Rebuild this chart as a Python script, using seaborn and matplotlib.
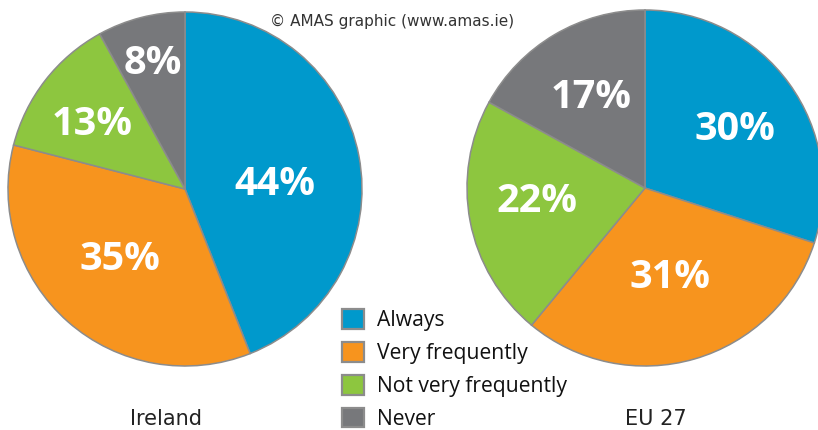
import numpy as np
import matplotlib
matplotlib.use('Agg')
import matplotlib.pyplot as plt
import seaborn as sns

categories = ['Always', 'Very frequently', 'Not very frequently', 'Never']
ireland = [44, 35, 13, 8]
eu27 = [30, 31, 22, 17]
panel_names = ['Ireland', 'EU 27']

colors = ['#0099cc', '#f7941e', '#8dc63f', '#77787b']
edge = '#8c8c8c'

sns.set_theme(style='white')
plt.rcParams['font.family'] = ['DejaVu Sans']

W, H = 818, 430
fig = plt.figure(figsize=(W / 100, H / 100), dpi=100)


def px_axes(cx, cy, r):
    # axes square around a pie centre given in image pixels (y from the top)
    return fig.add_axes([(cx - r) / W, (H - cy - r) / H, 2 * r / W, 2 * r / H])


def draw_pie(ax, values, label_r, label_dt):
    wedges, _, autotexts = ax.pie(values, colors=colors, startangle=90, counterclock=False,
                                  autopct='%d%%', radius=1,
                                  wedgeprops=dict(edgecolor=edge, linewidth=1.1),
                                  textprops=dict(color='white', fontsize=28.5, fontweight='bold',
                                                 family='Open Sans'))
    for w, t, r, dt in zip(wedges, autotexts, label_r, label_dt):
        mid = np.deg2rad((w.theta1 + w.theta2) / 2 + dt)
        t.set_position((r * np.cos(mid), r * np.sin(mid)))
        t.set_va('center')
        t.set_ha('center')
    ax.set_xlim(-1, 1)
    ax.set_ylim(-1, 1)
    ax.set_aspect('equal')
    ax.axis('off')
    return wedges


ax1 = px_axes(185, 189, 177)
wedges = draw_pie(ax1, ireland, [0.51, 0.54, 0.64, 0.73], [-8, -1.5, 3, 0])

ax2 = px_axes(645, 188, 178)
draw_pie(ax2, eu27, [0.60, 0.52, 0.61, 0.59], [-3, -0.7, -3.8, 0.4])

fig.text(166 / W, 1 - 419 / H, panel_names[0], ha='center', va='center', fontsize=15, color='#222222')
fig.text(656 / W, 1 - 419 / H, panel_names[1], ha='center', va='center', fontsize=15, color='#222222')
fig.text(392 / W, 1 - 21 / H, '\u00a9 AMAS graphic (www.amas.ie)', ha='center', va='center',
         fontsize=11, color='#333333')

leg = fig.legend(wedges, categories, loc='upper left', bbox_to_anchor=(342 / W, 1 - 309 / H),
                 frameon=False, borderpad=0, borderaxespad=0,
                 handlelength=1.05, handleheight=1.05, handletextpad=0.6, labelspacing=0.52,
                 prop=dict(family='Open Sans', size=15.2))
for h in leg.legend_handles:
    h.set_edgecolor('#8c8c8c')
    h.set_linewidth(1.6)
for t in leg.get_texts():
    t.set_color('#111111')

fig.savefig('out.png', dpi=100)
